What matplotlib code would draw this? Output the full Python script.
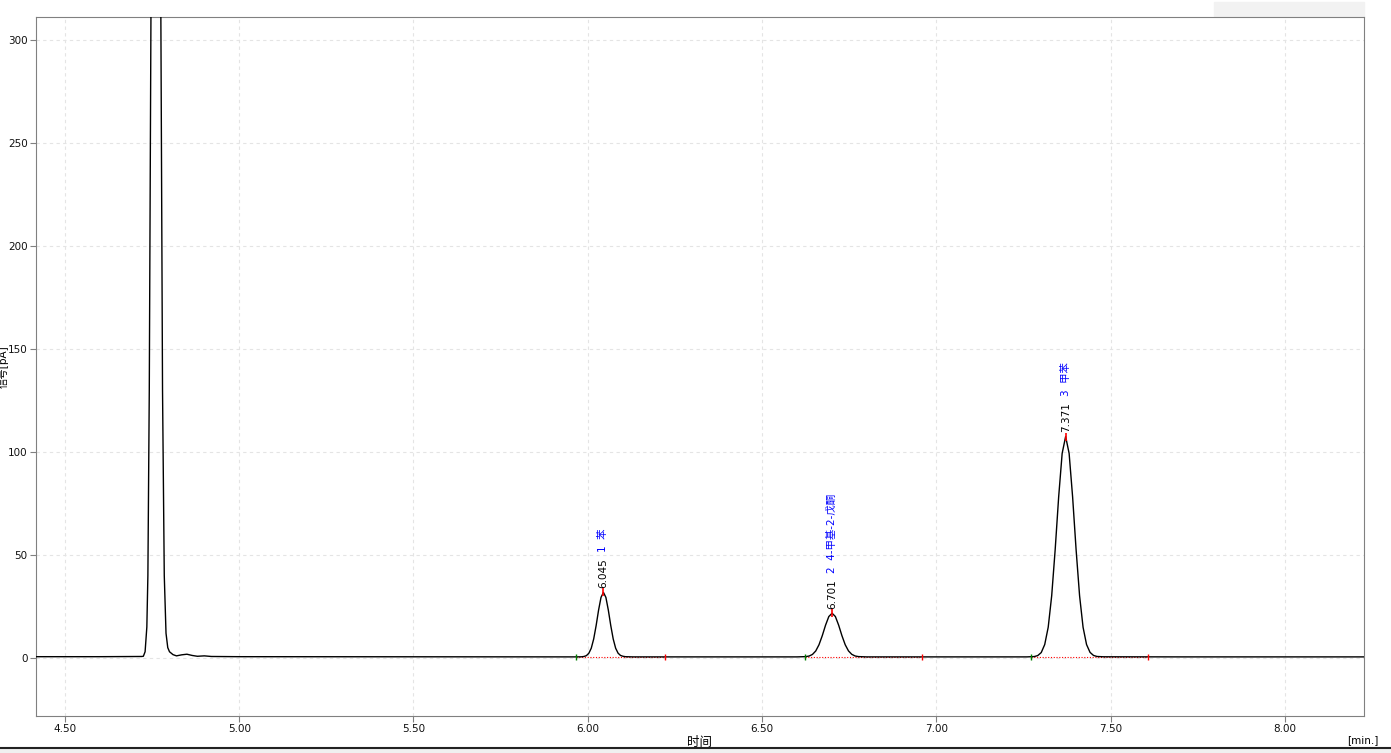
import matplotlib
matplotlib.use("Agg")
from matplotlib import pyplot as plt
from matplotlib.patches import Rectangle
from matplotlib.lines import Line2D

plt.rcParams['font.family'] = ['DejaVu Sans', 'Noto Sans CJK SC']
plt.rcParams['font.size'] = 7.5

# chromatogram trace (time in min, signal in pA)
time = [4.417, 4.600, 4.720, 4.725, 4.730, 4.735, 4.738, 4.742, 4.747, 4.752,
        4.760, 4.768, 4.775, 4.780, 4.785, 4.790, 4.795, 4.800, 4.810, 4.820,
        4.835, 4.850, 4.865, 4.880, 4.900, 4.920, 5.000, 5.500, 5.960,
        5.982, 5.989, 5.996, 6.003, 6.010, 6.017, 6.024, 6.031, 6.038, 6.045,
        6.052, 6.059, 6.066, 6.073, 6.080, 6.087, 6.094, 6.101, 6.108, 6.130,
        6.600, 6.6258, 6.6352, 6.6446, 6.6540, 6.6634, 6.6728, 6.6822, 6.6916,
        6.701, 6.7104, 6.7198, 6.7292, 6.7386, 6.7480, 6.7574, 6.7668, 6.7762,
        6.800, 7.260,
        7.281, 7.291, 7.301, 7.311, 7.321, 7.331, 7.341, 7.351, 7.361, 7.371,
        7.381, 7.391, 7.401, 7.411, 7.421, 7.431, 7.441, 7.451, 7.461, 7.480,
        7.700, 8.227]
signal = [0.6, 0.6, 0.7, 0.8, 3.0, 15, 40, 130, 320, 700,
          1000, 700, 320, 130, 40, 12, 5.0, 3.0, 1.6, 1.0,
          1.5, 1.8, 1.2, 0.8, 1.0, 0.7, 0.6, 0.55, 0.5,
          0.55, 0.7, 1.1, 2.25, 4.7, 9.2, 15.7, 23.2, 29.4, 31.8,
          29.4, 23.2, 15.7, 9.2, 4.7, 2.3, 1.2, 0.8, 0.6, 0.5,
          0.5, 0.63, 0.92, 1.69, 3.36, 6.4, 10.8, 15.9, 20.1,
          21.7, 20.1, 15.9, 10.8, 6.4, 3.4, 1.75, 0.95, 0.65,
          0.5, 0.5,
          0.66, 1.14, 2.6, 6.5, 14.9, 30.2, 52.6, 78.2, 99.3, 107.5,
          99.3, 78.2, 52.6, 30.2, 14.9, 6.5, 2.7, 1.2, 0.7, 0.55,
          0.5, 0.5]

# integrated peaks
peak_rt = [6.045, 6.701, 7.371]
peak_height = [31.8, 21.7, 107.5]
peak_no = [1, 2, 3]
peak_name = ["苯", "4-甲基-2-戊酮", "甲苯"]
base_start = [5.966, 6.623, 7.271]
base_end = [6.221, 6.958, 7.607]
base_level = 0.5

x_ticks = [4.5, 5.0, 5.5, 6.0, 6.5, 7.0, 7.5, 8.0]
y_ticks = [0, 50, 100, 150, 200, 250, 300]

fig = plt.figure(figsize=(13.91, 7.53), dpi=100)
ax = fig.add_axes([36 / 1391, 37 / 753, 1328 / 1391, 699 / 753])

ax.plot(time, signal, color='black', lw=1.0, zorder=3)

for i in range(len(peak_rt)):
    ax.plot([base_start[i], base_end[i]], [base_level, base_level],
            color='red', lw=0.8, ls=(0, (1, 1.5)), zorder=2)
    ax.plot([base_start[i]], [base_level], marker='|', color='green',
            ms=5, mew=1.0, zorder=4)
    ax.plot([base_end[i]], [base_level], marker='|', color='red',
            ms=5, mew=1.0, zorder=4)
    ax.plot([peak_rt[i]], [peak_height[i]], marker='|', color='red',
            ms=6, mew=1.2, zorder=4)
    ax.annotate('%.3f' % peak_rt[i], xy=(peak_rt[i], peak_height[i]),
                xytext=(0, 3), textcoords='offset points', rotation=90,
                ha='center', va='bottom', color='black', fontsize=7.5)
    ax.annotate('%d  %s' % (peak_no[i], peak_name[i]),
                xy=(peak_rt[i], peak_height[i]), xytext=(0, 29),
                textcoords='offset points', rotation=90,
                ha='center', va='bottom', color='#0000ff', fontsize=7.5)

ax.set_xlim(4.417, 8.227)
ax.set_ylim(-28.2, 311.2)
ax.set_xticks(x_ticks)
ax.set_xticklabels(['%.2f' % v for v in x_ticks])
ax.set_yticks(y_ticks)
ax.grid(True, color='#e4e4e4', ls=(0, (3, 3)), lw=0.8)
ax.set_axisbelow(True)
for s in ax.spines.values():
    s.set_color('#808080')
ax.tick_params(colors='#808080', labelcolor='#111111', length=4.5, width=0.8,
               pad=1.5, labelsize=7.5)

ax.set_xlabel('时间', fontsize=9, labelpad=1)
ax.set_ylabel('信号[pA]', fontsize=7.5)
ax.yaxis.set_label_coords(-0.0205, 0.5)
fig.text(1378 / 1391, 1 - 740 / 753, '[min.]', ha='right', va='center',
         fontsize=7.5)

# window chrome: bottom bar and top-right panel
fig.add_artist(Rectangle((0, 0), 1, 5 / 753, transform=fig.transFigure,
                         color='#f0f0f0', zorder=0))
fig.add_artist(Line2D([0, 1], [5.5 / 753, 5.5 / 753], transform=fig.transFigure,
                      color='#222222', lw=1.5))
fig.add_artist(Rectangle((1214 / 1391, 1 - 16 / 753), 150 / 1391, 14 / 753,
                         transform=fig.transFigure, color='#f2f2f2', zorder=0))

fig.savefig('out.png', dpi=100)
